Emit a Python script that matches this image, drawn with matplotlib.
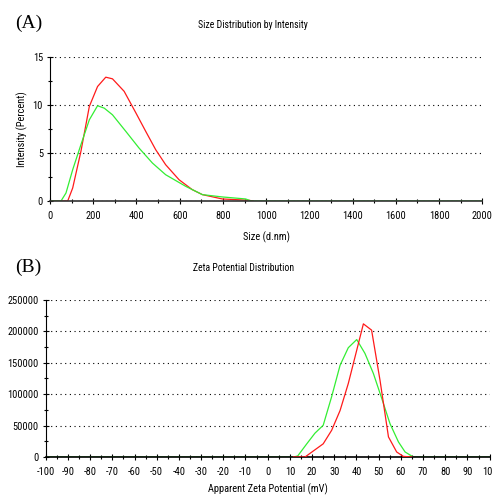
import matplotlib
matplotlib.use("Agg")
import matplotlib.pyplot as plt
from matplotlib.ticker import MultipleLocator

# ---- data ----
size_red_x = [0, 82, 105, 143, 182, 220, 258, 289, 343, 397, 443, 489, 535, 597, 658, 705, 797, 920, 940]
size_red_y = [0, 0, 1.35, 5.15, 9.83, 11.9, 12.87, 12.7, 11.4, 9.17, 7.23, 5.33, 3.77, 2.21, 1.18, 0.66, 0.21, 0.07, 0]

size_green_x = [0, 51, 74, 105, 143, 182, 220, 251, 289, 351, 412, 474, 535, 628, 705, 797, 905, 930, 2000]
size_green_y = [0, 0, 0.83, 3.25, 5.85, 8.44, 9.9, 9.65, 8.96, 7.23, 5.5, 3.94, 2.73, 1.52, 0.66, 0.42, 0.21, 0, 0]

zeta_red_x = [11.6, 16.8, 25, 28.8, 32.6, 36.3, 40.1, 43.1, 46.8, 50.6, 54.4, 58.1, 61.1, 64.9]
zeta_red_y = [0, 0, 21000, 42500, 74000, 117000, 170000, 212000, 202000, 122000, 32000, 8000, 1000, 0]

zeta_green_x = [-100, 11.6, 13.5, 17.6, 21.3, 25, 28.8, 32.6, 36.3, 40.1, 43.8, 47.6, 51.4, 55.1, 58.9, 61.9, 65.6, 100]
zeta_green_y = [0, 0, 1600, 21000, 38000, 50500, 96000, 146000, 174000, 187000, 165000, 133000, 93000, 53000, 24000, 8000, 0, 0]

plt.rcParams["font.family"] = ["Roboto Condensed", "Liberation Sans", "DejaVu Sans"]
plt.rcParams["axes.unicode_minus"] = False

RED = "#ff1a1a"
GREEN = "#33ee33"
grid_style = (0, (1, 3.2))
FS = 7.5


def style_axes(ax):
    ax.spines["top"].set_visible(False)
    ax.spines["right"].set_visible(False)
    ax.spines["left"].set_linewidth(0.8)
    ax.spines["bottom"].set_linewidth(1.2)
    ax.spines["bottom"].set_color("#333333")
    ax.tick_params(which="both", direction="inout", labelsize=FS, width=0.8)
    ax.tick_params(which="major", length=4, pad=3)
    ax.tick_params(which="minor", length=3)
    ax.tick_params(axis="x", which="both", pad=5)
    ax.yaxis.grid(True, which="major", color="black", linestyle=grid_style, linewidth=0.8)
    ax.set_axisbelow(True)


fig = plt.figure(figsize=(4.93, 4.96), dpi=100)

# ---- (A) size distribution ----
ax1 = fig.add_axes([0.1014, 0.5948, 0.877, 0.2909])
ax1.plot(size_red_x, size_red_y, color=RED, lw=0.9)
ax1.plot(size_green_x, size_green_y, color=GREEN, lw=0.9)
ax1.set_xlim(0, 2000)
ax1.set_ylim(0, 15)
ax1.xaxis.set_major_locator(MultipleLocator(200))
ax1.xaxis.set_minor_locator(MultipleLocator(100))
ax1.yaxis.set_major_locator(MultipleLocator(5))
ax1.yaxis.set_minor_locator(MultipleLocator(2.5))
style_axes(ax1)
ax1.set_xlabel("Size (d.nm)", fontsize=FS, labelpad=8)
ax1.set_ylabel("Intensity (Percent)", fontsize=FS)
ax1.yaxis.set_label_coords(-0.051, 0.5)

# ---- (B) zeta potential ----
ax2 = fig.add_axes([0.0927, 0.0786, 0.9006, 0.3166])
ax2.plot(zeta_green_x, zeta_green_y, color=GREEN, lw=0.9, zorder=2)
ax2.plot(zeta_red_x, zeta_red_y, color=RED, lw=0.9, zorder=3)
ax2.set_xlim(-100, 100)
ax2.set_ylim(0, 250000)
ax2.xaxis.set_major_locator(MultipleLocator(10))
ax2.xaxis.set_minor_locator(MultipleLocator(5))
ax2.yaxis.set_major_locator(MultipleLocator(50000))
ax2.yaxis.set_minor_locator(MultipleLocator(25000))
style_axes(ax2)
ax2.spines["bottom"].set_color("black")
ax2.set_xlabel("Apparent Zeta Potential (mV)", fontsize=FS, labelpad=5)
ax2.set_ylabel("Total Counts", fontsize=FS)
ax2.yaxis.set_label_coords(-0.096, 0.5)

# ---- titles and panel letters ----
fig.text(253 / 493, 1 - 25 / 496, "Size Distribution by Intensity", fontsize=7,
         ha="center", va="center")
fig.text(244 / 493, 1 - 268 / 496, "Zeta Potential Distribution", fontsize=7,
         ha="center", va="center")
fig.text(15 / 493, 1 - 23 / 496, "(A)", family="Liberation Serif", fontsize=14,
         ha="left", va="center")
fig.text(15 / 493, 1 - 267 / 496, "(B)", family="Liberation Serif", fontsize=14,
         ha="left", va="center")

fig.savefig("out.png", dpi=100)
